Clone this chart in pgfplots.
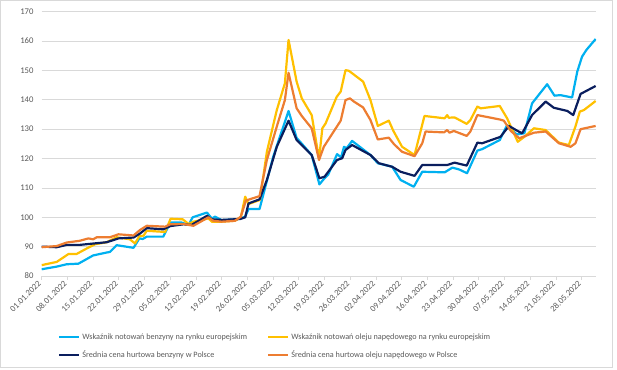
\documentclass[border=0pt]{standalone}
\usepackage{pgfplots}
\pgfplotsset{compat=1.18}
\usepackage{fontspec}
\setmainfont{Carlito}
\definecolor{cblue}{HTML}{00B0F0}
\definecolor{cyel}{HTML}{FFC000}
\definecolor{cnavy}{HTML}{0A1E5E}
\definecolor{corange}{HTML}{ED7D31}
\definecolor{txt}{HTML}{595959}
\definecolor{gridc}{HTML}{D9D9D9}
\begin{document}
\begin{tikzpicture}
\path (0bp,0bp) rectangle (617bp,370bp);
\draw[gridc, line width=0.8bp] (0.5bp,3bp) rectangle (612bp,369.5bp);
\begin{axis}[
  at={(41.7bp,94bp)}, anchor=south west,
  scale only axis, width=554.3bp, height=264.3bp,
  xmin=0, xmax=150.9, ymin=80, ymax=170,
  ytick={80,90,...,170},
  xtick={0,7,...,147},
  xticklabels={01.01.2022,08.01.2022,15.01.2022,22.01.2022,29.01.2022,05.02.2022,12.02.2022,19.02.2022,26.02.2022,05.03.2022,12.03.2022,19.03.2022,26.03.2022,02.04.2022,09.04.2022,16.04.2022,23.04.2022,30.04.2022,07.05.2022,14.05.2022,21.05.2022,28.05.2022},
  /pgf/number format/assume math mode=true,
  axis x line*=bottom, axis y line*=left,
  x axis line style={draw=gridc, line width=0.8bp},
  y axis line style={draw=none},
  ytick style={draw=none},
  xtick style={draw=gridc, line width=0.8bp},
  tick align=outside, major tick length=4bp,
  ymajorgrids, grid style={draw=gridc, line width=0.8bp},
  ticklabel style={font=\fontsize{8.7}{10}\selectfont, text=txt},
  yticklabel style={anchor=east, inner sep=0pt, xshift=-4bp},
  xticklabel style={rotate=45, anchor=east, inner sep=0pt, xshift=-3bp},
  every axis plot/.append style={line width=2.2bp, line join=round, mark=none},
  legend columns=2,
  legend cell align=left,
  legend image code/.code={\draw[#1] (0bp,0bp) -- (20bp,0bp);},
  legend style={at={(axis description cs:0.0294,-0.210)}, anchor=north west,
    draw=none, fill=none, inner sep=0pt,
    font=\fontsize{8.2}{10}\selectfont, text=txt,
    /tikz/every even column/.append style={column sep=18bp},
    /tikz/row sep=6bp},
]
\addplot[cblue] coordinates {
(0,82.3) (4.1,83.2) (6.8,84.0) (10,84.2) (14,87.0) (17.7,88.0) (18.6,88.2) (20.4,90.5) (25,89.6) (26.6,92.8) (27.5,92.6) (28.6,93.4) (33.1,93.4) (35,98.2) (38.1,98.2) (40,97.4) (41.1,100.0) (45,101.6) (46.3,99.6) (47.2,100.2) (49,99.0) (53.5,99.4) (55.4,100.2) (56.3,102.8) (59.3,102.8) (63,120.5) (65,128) (67.2,136.2) (69.4,127) (70.5,125.5) (73.5,121.2) (75.6,111.2) (77,113.3) (78,114.5) (80.4,121.5) (81.5,120.4) (82.3,124) (83,123.5) (84.5,126) (89.5,121.2) (91.5,118.4) (95.4,117.2) (97.7,112.7) (101.3,110.4) (103.6,115.5) (109.7,115.3) (111.8,116.9) (113.6,116.3) (115.8,115) (118.6,122.7) (119.9,123.2) (124.7,126.3) (126.7,131.4) (129.3,128.2) (131.4,128.6) (133.5,138.8) (137.6,145.3) (139.6,141.4) (141.2,141.6) (144.4,140.8) (145.8,149.6) (147.1,154.7) (148.3,157) (150.8,160.7)
};
\addlegendentry{Wskaźnik notowań benzyny na rynku europejskim}
\addplot[cyel] coordinates {
(0,83.7) (4.1,84.8) (7.3,87.5) (9.5,87.5) (12.3,89.4) (14.5,90.8) (17.7,91.5) (20.4,93.2) (24,92.5) (25.4,91.1) (26.6,93.6) (27.7,93.7) (28.6,95.4) (33.6,95.0) (35.1,99.5) (38.4,99.3) (40,97.7) (41.3,98.5) (45.4,99.6) (46.3,98.5) (49,98.5) (52.6,98.8) (54.2,100.0) (55.4,107.0) (56.3,104.5) (59.4,105.9) (61.3,122.3) (64,136.5) (66.2,145.6) (67.2,160.4) (69.4,146.2) (70.8,140.5) (73.5,134.8) (75.5,119.8) (76.4,130.3) (77.3,132) (80.3,141) (81.4,142.8) (82.7,150.1) (83.6,149.9) (87.5,146.2) (89.5,139.9) (91.5,131.1) (94.5,132.9) (95.7,129.5) (98.1,124) (101.5,121.2) (104.2,134.5) (109.7,133.7) (110.4,134.8) (110.8,133.9) (112.4,134) (115.7,131.8) (116.7,133.1) (118.6,137.7) (119.5,137.1) (124.7,137.9) (126.7,133.7) (129.6,125.7) (131.4,127.4) (134,130.3) (137.2,129.7) (140.8,125.4) (143.5,124.6) (145.3,130.9) (146.5,136) (147.6,136.5) (150.8,139.6)
};
\addlegendentry{Wskaźnik notowań oleju napędowego na rynku europejskim}
\addplot[cnavy] coordinates {
(0,90) (4.1,89.8) (6.8,90.6) (10.4,90.6) (13.6,91) (17.7,91.5) (20.9,92.8) (25,93.1) (26.8,94.5) (28.6,96.3) (33.1,95.9) (35,97) (38.6,97.6) (40.8,97.4) (45,100.5) (46.3,99.3) (49,99.1) (54,99.4) (55.4,100) (56.3,104.7) (59.3,106.1) (61.3,112.7) (64,124) (67.2,132.9) (69.4,126.3) (73.5,121.2) (75.6,113.3) (77,113.8) (80.4,119.5) (81.8,120.1) (82.7,122.9) (84.5,124.6) (89.5,121.2) (91.8,118.4) (95.4,117.2) (97.7,115.5) (101.5,114.1) (103.6,117.8) (110.4,117.8) (112.4,118.6) (115.7,117.6) (118.6,125.4) (119.9,125.2) (124.9,127.4) (127.2,131.1) (129.4,129.5) (130.8,128.6) (133.5,134.8) (137.2,139.4) (139.4,137.3) (143.1,136.2) (144.7,134.8) (146.7,142) (150.8,144.7)
};
\addlegendentry{Średnia cena hurtowa benzyny w Polsce}
\addplot[corange] coordinates {
(0,89.8) (4.1,90.2) (6.8,91.4) (10.4,92) (12.7,92.8) (14,92.5) (15,93.2) (18.6,93.2) (20.9,94.2) (25,93.8) (26.8,95.7) (28.6,97.1) (33.6,96.8) (35,97.6) (38.6,97.7) (41.3,97.1) (45.4,100) (46.7,98.8) (49,98.5) (52.6,98.8) (54.2,100.2) (55.6,105.7) (59.3,107.2) (61.3,119.5) (64,130.9) (66.2,139.9) (67.2,149.2) (69.4,137.1) (70.8,134.5) (73.5,130.3) (75.5,119.5) (76.8,124) (81.4,132.9) (82.7,139.9) (83.9,140.5) (85,139.4) (87.5,137.4) (89.5,133.1) (91.5,126.5) (94.5,127.1) (95.9,124.9) (98.1,122.3) (101.5,120.8) (103.6,125.2) (104.5,129.2) (109.5,128.9) (110.4,129.7) (111,128.8) (112.2,129.4) (115.7,127.7) (116.7,129.2) (118.6,134.8) (124.7,133.3) (125.8,132.9) (127.7,129.4) (130,126.9) (134,128.8) (137.2,129.2) (140.8,125.2) (144,124) (145.3,125.2) (146.7,130) (150.8,131.1)
};
\addlegendentry{Średnia cena hurtowa oleju napędowego w Polsce}
\end{axis}
\end{tikzpicture}
\end{document}
